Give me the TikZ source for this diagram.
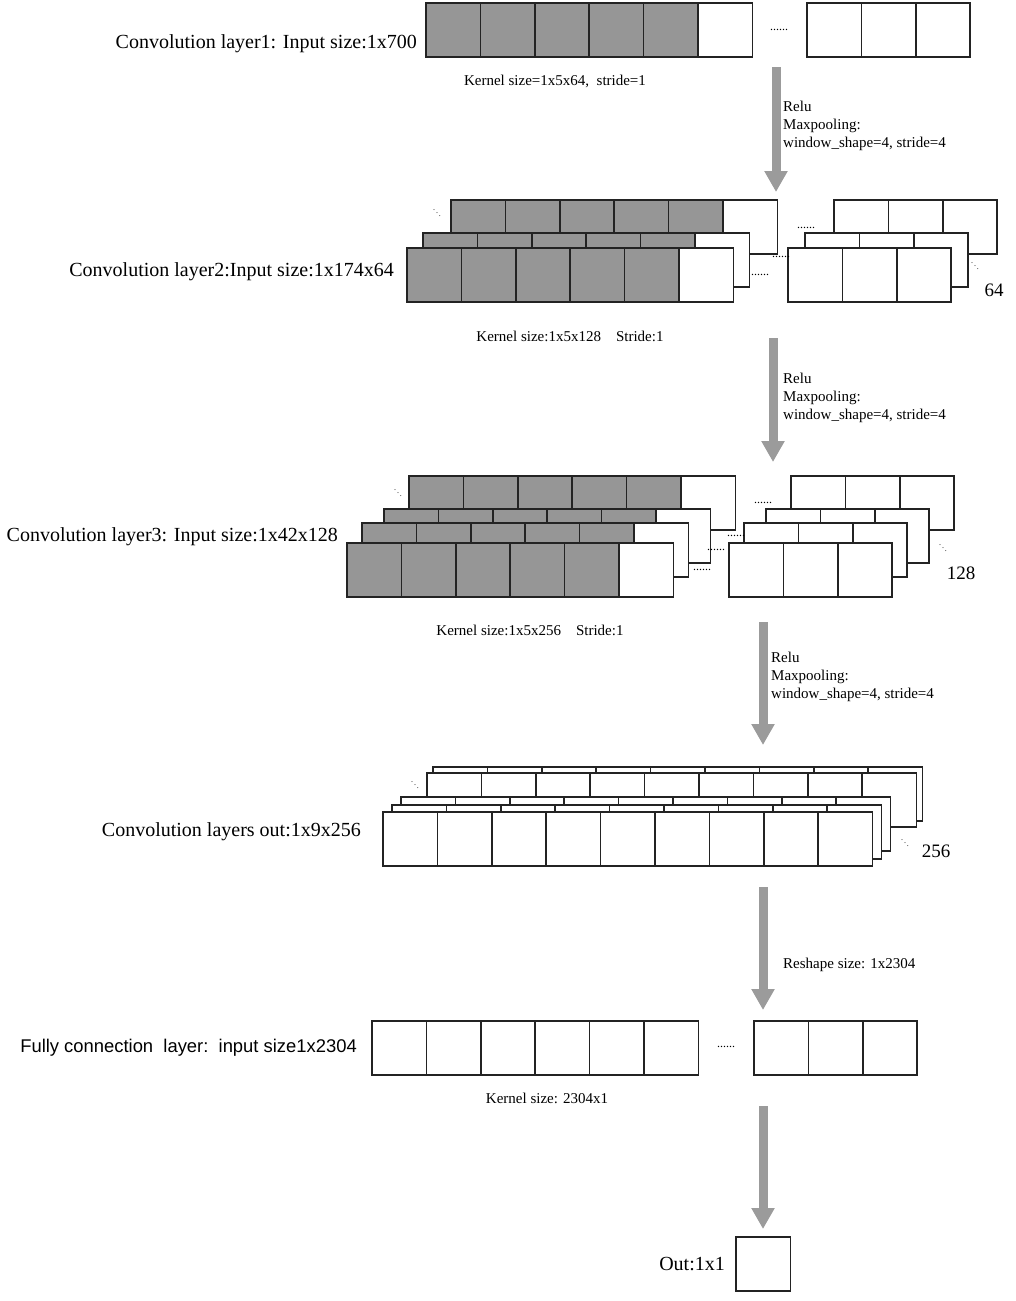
\documentclass[tikz,border=0pt]{standalone}
\usepackage{fontspec}
\setmainfont{Liberation Serif}
\newfontfamily\fcfont{Liberation Sans}
\usetikzlibrary{arrows.meta, positioning}
\definecolor{cellgray}{RGB}{150,150,150}
\definecolor{flowgray}{RGB}{155,155,155}
\definecolor{edgegray}{RGB}{35,35,35}
\newcommand{\cellrow}[5]{\foreach \i in {1,...,#5} \node[#1] (#2-\i) at ({#3+54.4*(\i-1)},#4) {};}

\begin{document}
\begin{tikzpicture}[
                x=1pt, y=-1pt,
                cell/.style = {draw=edgegray, fill=white, line width=1.5pt, minimum width=54.4pt, minimum height=54pt, inner sep=0pt, outer sep=0pt, anchor=north west},
                gcell/.style = {cell, fill=cellgray},
                title/.style = {font=\fontsize{20}{24}\selectfont, inner sep=0pt},
                note/.style = {font=\fontsize{15}{18}\selectfont, inner sep=0pt, align=left},
                etc/.style = {font=\fontsize{12}{12}\selectfont, inner sep=0pt},
                diag/.style = {font=\fontsize{8}{8}\selectfont, inner sep=0pt},
                chans/.style = {font=\fontsize{19}{22}\selectfont, inner sep=0pt},
                flow/.style = {draw=flowgray, line width=9pt, -{Triangle[width=22pt, length=21pt]}}
              ]
              \useasboundingbox (0,0) rectangle (1015,1301);
              % Layer 1
              \cellrow{gcell}{c1}{426}{3}{5}
              \node[cell] (c1w) at (698,3) {};
              \cellrow{cell}{c1r}{807}{3}{3}
              \node[etc] (d1) at (779,30) {......};
              \node[title, anchor=east] (t1) at (417,44) {Convolution layer1: Input size:1x700};
              \node[note] (k1) at (555,81) {Kernel size=1x5x64,\ \ stride=1};
              % Layer 2
              \cellrow{gcell}{c2a}{451}{200}{5}
              \node[cell] (c2aw) at (723,200) {};
              \cellrow{cell}{c2ar}{834}{200}{3}
              \cellrow{gcell}{c2b}{423}{233}{5}
              \node[cell] (c2bw) at (695,233) {};
              \cellrow{cell}{c2br}{805}{233}{3}
              \cellrow{gcell}{c2c}{407}{248}{5}
              \node[cell] (c2cw) at (679,248) {};
              \cellrow{cell}{c2cr}{788}{248}{3}
              \node[etc] (d2a) at (806,228) {......};
              \node[etc] (d2b) at (781,257) {......};
              \node[etc] (d2c) at (760,275) {......};
              \node[diag] (m2a) at (437,210) {$\ddots$};
              \node[diag] (m2b) at (975,263) {$\ddots$};
              \node[chans] (n2) at (994,290) {64};
              \node[title, anchor=east] (t2) at (394,272) {Convolution layer2:Input size:1x174x64};
              \node[note] (k2) at (570,336) {Kernel size:1x5x128\ \ \ \ Stride:1};
              % Layer 3
              \cellrow{gcell}{c3a}{409}{476}{5}
              \node[cell] (c3aw) at (681,476) {};
              \cellrow{cell}{c3ar}{791}{476}{3}
              \cellrow{gcell}{c3b}{384}{509}{5}
              \node[cell] (c3bw) at (656,509) {};
              \cellrow{cell}{c3br}{766}{509}{3}
              \cellrow{gcell}{c3c}{362}{523}{5}
              \node[cell] (c3cw) at (634,523) {};
              \cellrow{cell}{c3cr}{744}{523}{3}
              \cellrow{gcell}{c3d}{347}{543}{5}
              \node[cell] (c3dw) at (619,543) {};
              \cellrow{cell}{c3dr}{729}{543}{3}
              \node[etc] (d3a) at (763,503) {......};
              \node[etc] (d3b) at (736,536) {......};
              \node[etc] (d3c) at (716,550) {......};
              \node[etc] (d3d) at (702,570) {......};
              \node[diag] (m3a) at (398,490) {$\ddots$};
              \node[diag] (m3b) at (943,545) {$\ddots$};
              \node[chans] (n3) at (961,573) {128};
              \node[title, anchor=east] (t3) at (338,537) {Convolution layer3: Input size:1x42x128};
              \node[note] (k3) at (530,630) {Kernel size:1x5x256\ \ \ \ Stride:1};
              % Layers out
              \cellrow{cell}{oa}{433}{767}{9}
              \cellrow{cell}{ob}{427}{773}{9}
              \cellrow{cell}{oc}{401}{797}{9}
              \cellrow{cell}{od}{392}{805}{9}
              \cellrow{cell}{oe}{383}{812}{9}
              \node[diag] (m4a) at (415,782) {$\ddots$};
              \node[diag] (m4b) at (905,840) {$\ddots$};
              \node[chans] (n4) at (936,851) {256};
              \node[title, anchor=east] (t4) at (361,832) {Convolution layers out:1x9x256};
              % Fully connection
              \cellrow{cell}{fc}{372}{1021}{6}
              \cellrow{cell}{fcr}{754}{1021}{3}
              \node[etc] (d5) at (726,1047) {......};
              \node[title, anchor=east, font=\fcfont\fontsize{18.4}{22}\selectfont] (t5) at (357,1048) {Fully connection\ \ layer:\ \ input size1x2304};
              \node[note] (k5) at (547,1098) {Kernel size: 2304x1};
              % Output
              \node[cell] (out) at (736,1237) {};
              \node[title, left=11pt of out] (t6) {Out:1x1};
              % Arrows
              \coordinate (a1s) at (776,67);    \coordinate (a1e) at (776,192);
              \coordinate (a2s) at (773,338);   \coordinate (a2e) at (773,462);
              \coordinate (a3s) at (763,622);   \coordinate (a3e) at (763,745);
              \coordinate (a4s) at (763,887);   \coordinate (a4e) at (763,1010);
              \coordinate (a5s) at (763,1106);  \coordinate (a5e) at (763,1229);
              \draw[flow] (a1s) -- (a1e);
              \draw[flow] (a2s) -- (a2e);
              \draw[flow] (a3s) -- (a3e);
              \draw[flow] (a4s) -- (a4e);
              \draw[flow] (a5s) -- (a5e);
              \node[note, anchor=north west] (r1) at (783,101) {Relu\\Maxpooling:\\window\_shape=4, stride=4};
              \node[note, anchor=north west] (r2) at (783,373) {Relu\\Maxpooling:\\window\_shape=4, stride=4};
              \node[note, anchor=north west] (r3) at (771,652) {Relu\\Maxpooling:\\window\_shape=4, stride=4};
              \node[note, anchor=west] (r4) at (783,965) {Reshape size: 1x2304};
            \end{tikzpicture}
\end{document}
